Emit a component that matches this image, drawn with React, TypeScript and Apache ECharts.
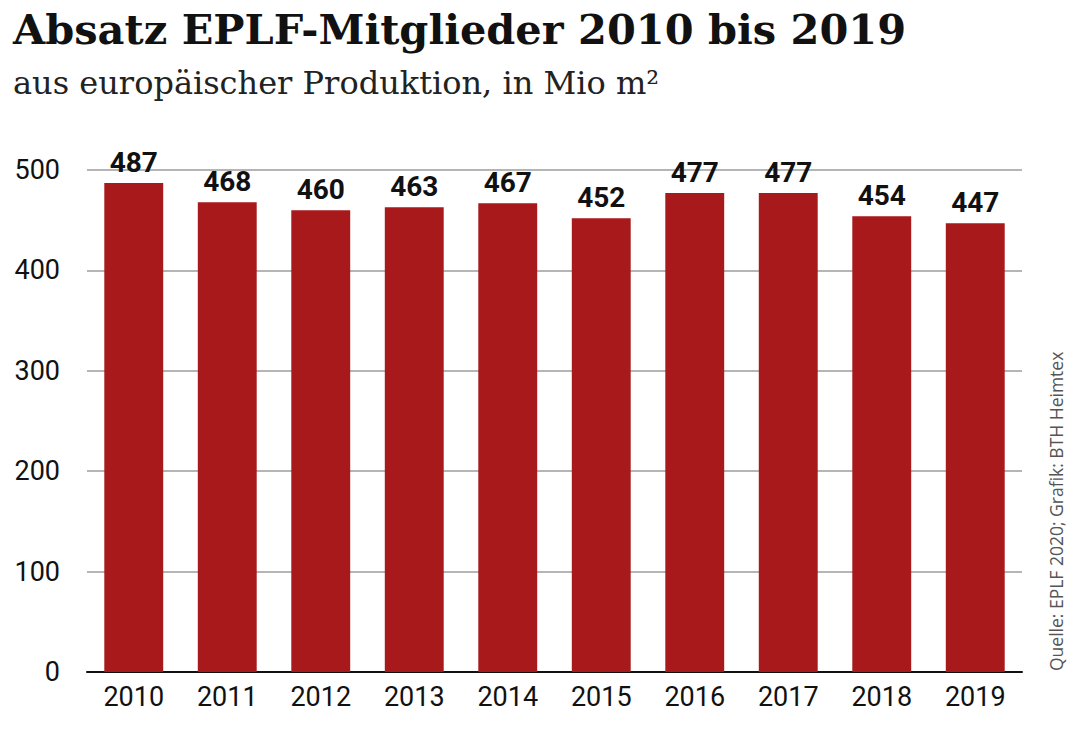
import React, { useEffect, useRef } from "react";
import * as echarts from "echarts";

const categories = ["2010", "2011", "2012", "2013", "2014", "2015", "2016", "2017", "2018", "2019"];
const values = [487, 468, 460, 463, 467, 452, 477, 477, 454, 447];
const yTicks = [0, 100, 200, 300, 400, 500];

const titleText = "Absatz EPLF-Mitglieder 2010 bis 2019";
const subtitleText = "aus europäischer Produktion, in Mio m²";
const sourceText = "Quelle: EPLF 2020; Grafik: BTH Heimtex";

const narrow = 'Roboto, "Liberation Sans Narrow", Arial, sans-serif';

export default function App() {
  const ref = useRef<HTMLDivElement>(null);
  useEffect(() => {
    if (!ref.current) return;
    const chart = echarts.init(ref.current, undefined, { renderer: "svg" });
    chart.setOption({
      animation: false,
      backgroundColor: "#ffffff",
      title: [
        {
          text: titleText,
          left: 8,
          top: 3,
          textStyle: {
            fontFamily: '"DejaVu Serif", serif',
            fontWeight: "bold",
            fontSize: 41.5,
            color: "#111111",
          },
        },
        {
          text: subtitleText,
          left: 8,
          top: 62,
          textStyle: {
            fontFamily: '"DejaVu Serif", serif',
            fontWeight: "normal",
            fontSize: 32,
            color: "#222222",
          },
        },
      ],
      graphic: [
        {
          type: "text",
          x: 1047,
          y: 671,
          rotation: Math.PI / 2,
          style: {
            text: sourceText,
            fontFamily: '"Open Sans", "Noto Sans", sans-serif',
            fontSize: 17.5,
            fill: "#555555",
            textAlign: "left",
            textVerticalAlign: "top",
          },
        },
      ],
      grid: { left: 87, right: 58, top: 170, bottom: 57, containLabel: false },
      xAxis: {
        type: "category",
        data: categories,
        axisLine: { show: true, lineStyle: { color: "#111111", width: 2 } },
        axisTick: { show: false },
        axisLabel: {
          fontFamily: narrow,
          fontSize: 27,
          color: "#111111",
          margin: 11,
        },
      },
      yAxis: {
        type: "value",
        min: 0,
        max: 500,
        interval: 100,
        axisLine: { show: false },
        axisTick: { show: false },
        splitLine: { lineStyle: { color: "#b5b5b5", width: 2 } },
        axisLabel: {
          fontFamily: narrow,
          fontSize: 27,
          color: "#111111",
          margin: 27,
          formatter: (v: number) => (yTicks.includes(v) ? String(v) : ""),
        },
      },
      series: [
        {
          type: "bar",
          data: values,
          barWidth: "63%",
          itemStyle: { color: "#a7191b" },
          label: {
            show: true,
            position: "top",
            distance: 7,
            fontFamily: narrow,
            fontWeight: "bold",
            fontSize: 28,
            color: "#111111",
          },
        },
      ],
    });
    return () => chart.dispose();
  }, []);
  return (
    <div
      ref={ref}
      style={{ position: "fixed", left: 0, top: 0, width: 1080, height: 729, background: "#fff" }}
    />
  );
}
